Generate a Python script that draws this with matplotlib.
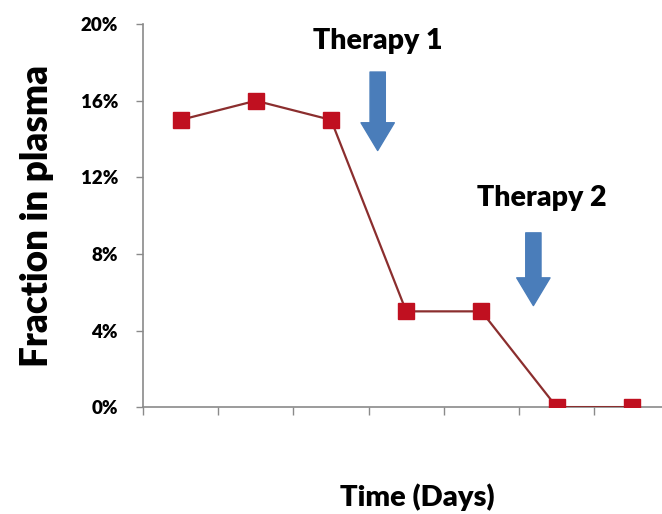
import matplotlib
matplotlib.use("Agg")
import numpy as np
from matplotlib import pyplot as plt
from matplotlib.ticker import FuncFormatter

# fraction in plasma (%) at each time point
time_points = [1, 2, 3, 4, 5, 6, 7]
fraction = [15, 16, 15, 5, 5, 0, 0]
y_ticks = [0, 4, 8, 12, 16, 20]

therapy_labels = ["Therapy 1", "Therapy 2"]
therapy_x = [2.62, 4.69]          # position between time points
therapy_arrow_top = [17.5, 9.1]
therapy_arrow_bottom = [13.4, 5.3]
therapy_text_x = [2.62, 4.80]
therapy_text_y = [19.1, 10.9]

plt.rcParams['font.family'] = ['Lato', 'DejaVu Sans']

fig = plt.figure(figsize=(6.62, 5.14), dpi=100)
ax = fig.add_axes([0.216, 0.208, 0.784, 0.745])

x = np.arange(len(time_points))
ax.plot(x, fraction, color='#8B2E2E', linewidth=1.6,
        marker='s', markersize=11, markerfacecolor='#C01020',
        markeredgecolor='#C01020', zorder=3)

ax.set_xlim(-0.5, 6.4)
ax.set_ylim(0, 20)
ax.set_yticks(y_ticks)
ax.yaxis.set_major_formatter(FuncFormatter(lambda v, p: f"{v:.0f}%"))
ax.set_xticks(np.arange(-0.5, 6.5, 1.0))
ax.set_xticklabels([])

for sp in ['top', 'right']:
    ax.spines[sp].set_visible(False)
for sp in ['left', 'bottom']:
    ax.spines[sp].set_color('#8a8a8a')
    ax.spines[sp].set_linewidth(1.2)
ax.tick_params(axis='y', colors='#8a8a8a', length=5, width=1.0,
               labelcolor='black', labelsize=13.5, pad=13)
ax.tick_params(axis='x', colors='#8a8a8a', length=6, width=1.0)
for lbl in ax.get_yticklabels():
    lbl.set_fontweight('heavy')

ax.set_ylabel("Fraction in plasma", fontsize=26.5, fontweight='heavy')
ax.yaxis.set_label_coords(-0.172, 0.5)
ax.set_xlabel("Time (Days)", fontsize=21, fontweight='heavy', va='center')
ax.xaxis.set_label_coords(0.528, -0.235)

for lab, tx, top, bot, lx, ty in zip(therapy_labels, therapy_x, therapy_arrow_top,
                                     therapy_arrow_bottom, therapy_text_x, therapy_text_y):
    ax.annotate("", xy=(tx, bot), xytext=(tx, top),
                arrowprops=dict(arrowstyle="simple,head_width=1.2,head_length=1.0,tail_width=0.55",
                                mutation_scale=20, color='#4A7DBA',
                                shrinkA=0, shrinkB=0),
                annotation_clip=False)
    ax.text(lx, ty, lab, ha='center', va='center', fontsize=20.5,
            fontweight='heavy', clip_on=False)

fig.savefig("out.png", dpi=100)
